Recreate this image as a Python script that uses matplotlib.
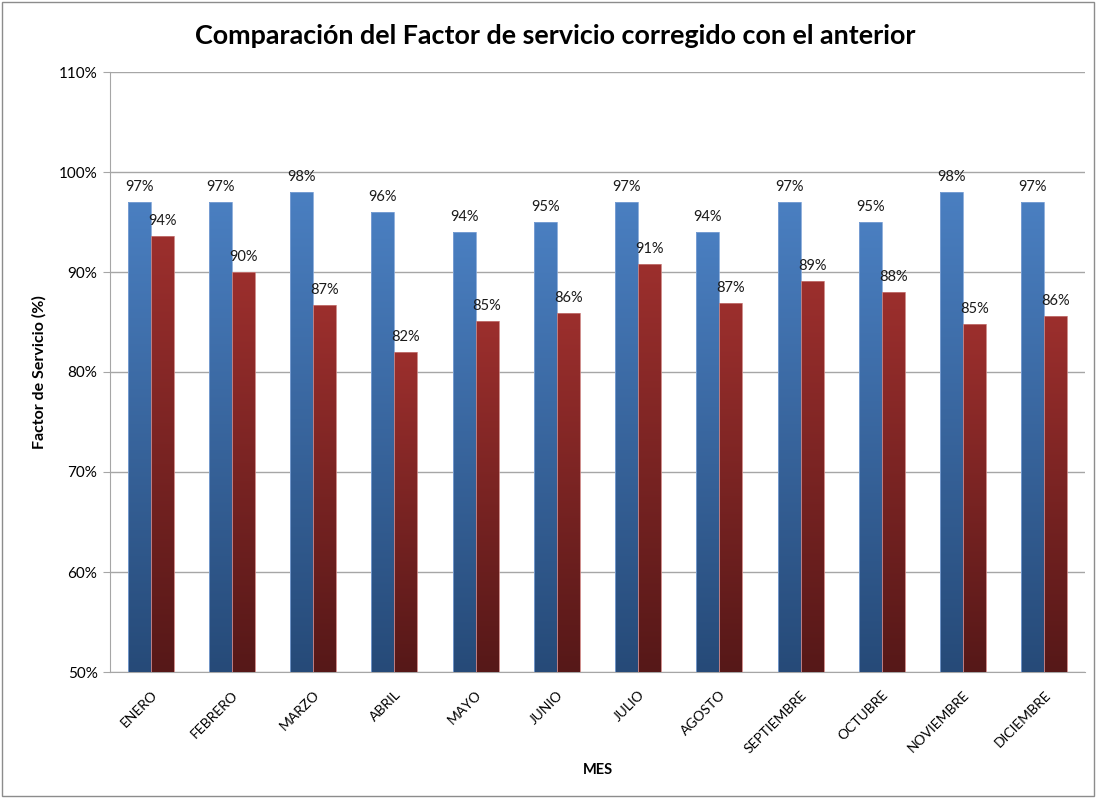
import numpy as np
import matplotlib.pyplot as plt
from matplotlib.colors import LinearSegmentedColormap
from matplotlib.patches import Rectangle
from matplotlib.ticker import FuncFormatter

plt.rcParams['font.family'] = ['Lato', 'DejaVu Sans']

meses = ['ENERO', 'FEBRERO', 'MARZO', 'ABRIL', 'MAYO', 'JUNIO', 'JULIO',
         'AGOSTO', 'SEPTIEMBRE', 'OCTUBRE', 'NOVIEMBRE', 'DICIEMBRE']
fs_anterior = [97, 97, 98, 96, 94, 95, 97, 94, 97, 95, 98, 97]
fs_corregido = [93.6, 90.0, 86.7, 82.0, 85.1, 85.9, 90.8, 86.9, 89.1, 88.0, 84.8, 85.6]

ymin, ymax = 50, 110
width = 0.283

cmap_azul = LinearSegmentedColormap.from_list('azul', ['#264a78', '#4a7fc1'])
cmap_rojo = LinearSegmentedColormap.from_list('rojo', ['#561818', '#9c2f2d'])

fig = plt.figure(figsize=(10.96, 7.98), dpi=100)
ax = fig.add_axes([110 / 1096, 1 - 672 / 798, 975 / 1096, 600 / 798])

x = np.arange(len(meses))
grad = np.linspace(0, 1, 256).reshape(-1, 1)


def barras(pos, vals, cmap, edge):
    bars = ax.bar(pos, vals, width, bottom=0, facecolor='none',
                  edgecolor='none', zorder=3)
    for b, v in zip(bars, vals):
        x0 = b.get_x()
        ax.imshow(grad, cmap=cmap, origin='lower', aspect='auto',
                  extent=[x0, x0 + width, ymin, v], zorder=3)
        ax.add_patch(Rectangle((x0, ymin), width, v - ymin, fill=False,
                               edgecolor=edge, lw=0.6, zorder=4))
        ax.annotate('%d%%' % round(v), (x0 + width / 2, v), xytext=(0, 6),
                    textcoords='offset points', ha='center', va='bottom',
                    fontsize=10.5, color='#1a1a1a', zorder=5)
    return bars


barras(x - width / 2, fs_anterior, cmap_azul, '#7fa3d6')
barras(x + width / 2, fs_corregido, cmap_rojo, '#c77b79')

ax.set_xlim(-0.5, len(meses) - 0.5)
ax.set_ylim(ymin, ymax)
ax.set_yticks(np.arange(ymin, ymax + 1, 10))
ax.yaxis.set_major_formatter(FuncFormatter(lambda v, p: '%d%%' % v))
ax.grid(axis='y', color='#a6a6a6', lw=1, zorder=0)
ax.set_axisbelow(True)

ax.set_xticks(x)
ax.set_xticklabels(meses, rotation=45, ha='right', rotation_mode='anchor',
                   fontsize=10)
ax.tick_params(axis='x', length=0, pad=12)
ax.tick_params(axis='y', length=5, color='#a6a6a6', labelsize=11, pad=4)

for s in ['top', 'right']:
    ax.spines[s].set_visible(False)
for s in ['left', 'bottom']:
    ax.spines[s].set_color('#a6a6a6')

ax.set_ylabel('Factor de Servicio (%)', fontsize=11.5, fontweight='bold',
              labelpad=9)
fig.text(598 / 1096, 1 - 770 / 798, 'MES', ha='center', va='center',
         fontsize=10.5, fontweight='bold')
fig.text(555 / 1096, 1 - 36 / 798,
         'Comparación del Factor de servicio corregido con el anterior',
         ha='center', va='center', fontsize=19.4, fontweight='bold')

fig.patches.append(Rectangle((2 / 1096, 2 / 798), 1092 / 1096, 794 / 798,
                             transform=fig.transFigure, fill=False,
                             edgecolor='#8c8c8c', lw=1))

fig.savefig('out.png', dpi=100)
